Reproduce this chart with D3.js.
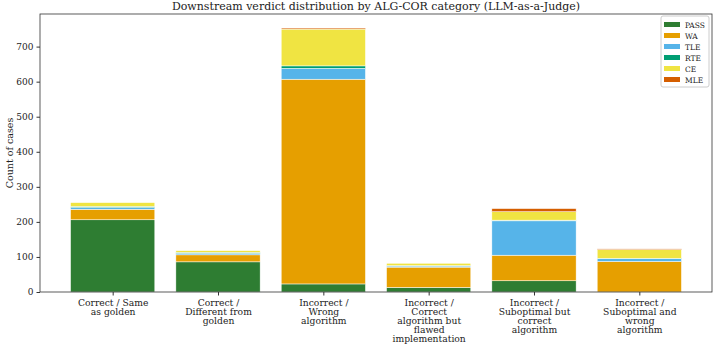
<!DOCTYPE html>
<html>
<head>
<meta charset="utf-8">
<script src="https://cdn.jsdelivr.net/npm/d3@7"></script>
<style>
  body { margin: 0; background: #fff; }
  text { font-family: "DejaVu Serif", serif; fill: #222; }
</style>
</head>
<body>
<svg id="chart"></svg>
<script>
/* data */
const categories = [
  ['Correct / Same', 'as golden'],
  ['Correct /', 'Different from', 'golden'],
  ['Incorrect /', 'Wrong', 'algorithm'],
  ['Incorrect /', 'Correct', 'algorithm but', 'flawed', 'implementation'],
  ['Incorrect /', 'Suboptimal but', 'correct', 'algorithm'],
  ['Incorrect /', 'Suboptimal and', 'wrong', 'algorithm']
];
const verdicts = ['PASS', 'WA', 'TLE', 'RTE', 'CE', 'MLE'];
const verdictColors = ['#2e7d32', '#e69f00', '#56b4e9', '#009e73', '#f0e442', '#d55e00'];
const passCounts = [206, 86, 23, 13, 32, 0];
const waCounts   = [30, 20, 584, 58, 73, 87];
const tleCounts  = [5, 4, 31, 3, 98, 8];
const rteCounts  = [3, 3, 7, 1, 2, 1];
const ceCounts   = [11, 5, 105, 7, 24, 25];
const mleCounts  = [0, 0, 3, 0, 9, 2];
const yTicks = [0, 100, 200, 300, 400, 500, 600, 700];

const width = 718, height = 349;
const margin = {top: 14, right: 6, bottom: 57, left: 40};

const svg = d3.select('#chart').attr('width', width).attr('height', height);

const series = [passCounts, waCounts, tleCounts, rteCounts, ceCounts, mleCounts];
const rows = categories.map((c, i) => {
  const r = {key: i};
  verdicts.forEach((v, j) => r[v] = series[j][i]);
  return r;
});
const stacked = d3.stack().keys(verdicts)(rows);

/* categorical axis like matplotlib: bars 0.8 wide, 5% margins */
const x = d3.scaleLinear().domain([-0.69, 5.69]).range([margin.left, width - margin.right]);
const y = d3.scaleLinear().domain([0, 793]).range([height - margin.bottom, margin.top]);
const barW = x(0.8) - x(0);

const g = svg.append('g');
g.selectAll('g.layer')
  .data(stacked)
  .join('g')
  .attr('class', 'layer')
  .attr('fill', (d, i) => verdictColors[i])
  .selectAll('rect')
  .data(d => d)
  .join('rect')
  .attr('x', (d, i) => x(i) - barW / 2)
  .attr('width', barW)
  .attr('y', d => y(d[1]))
  .attr('height', d => Math.max(0, y(d[0]) - y(d[1])))
  .attr('stroke', '#fff')
  .attr('stroke-width', 0.5);

/* frame */
svg.append('rect')
  .attr('x', margin.left).attr('y', margin.top)
  .attr('width', width - margin.right - margin.left)
  .attr('height', height - margin.bottom - margin.top)
  .attr('fill', 'none').attr('stroke', '#333').attr('stroke-width', 0.8);

/* y axis */
const yAxis = svg.append('g')
  .attr('transform', `translate(${margin.left},0)`)
  .call(d3.axisLeft(y).tickValues(yTicks).tickSize(3.5).tickPadding(3));
yAxis.select('.domain').remove();
yAxis.selectAll('line').attr('stroke', '#333');
yAxis.selectAll('text').style('font-size', '9px').attr('fill', '#222');

/* x axis */
const xAxis = svg.append('g')
  .attr('transform', `translate(0,${height - margin.bottom})`)
  .call(d3.axisBottom(x).tickValues(d3.range(categories.length)).tickSize(3.5).tickFormat(''));
xAxis.select('.domain').remove();
xAxis.selectAll('line').attr('stroke', '#333');
xAxis.selectAll('.tick').each(function (d) {
  const t = d3.select(this).append('text')
    .attr('text-anchor', 'middle')
    .style('font-size', '9.2px')
    .attr('fill', '#222');
  categories[d].forEach((line, k) => {
    t.append('tspan').attr('x', 0).attr('y', 13.5 + k * 9.1).text(line);
  });
});

/* labels */
svg.append('text')
  .attr('x', (margin.left + width - margin.right) / 2).attr('y', 10)
  .attr('text-anchor', 'middle').style('font-size', '11px')
  .text('Downstream verdict distribution by ALG-COR category (LLM-as-a-Judge)');
svg.append('text')
  .attr('transform', `translate(13,${(margin.top + height - margin.bottom) / 2}) rotate(-90)`)
  .attr('text-anchor', 'middle').style('font-size', '9.5px')
  .text('Count of cases');

/* legend */
const lg = svg.append('g').attr('transform', `translate(${width - margin.right - 51},${margin.top + 2})`);
lg.append('rect').attr('width', 48).attr('height', 71)
  .attr('fill', '#fff').attr('fill-opacity', 0.8)
  .attr('stroke', '#ccc').attr('rx', 2);
verdicts.forEach((v, i) => {
  const row = lg.append('g').attr('transform', `translate(3,${8.5 + i * 11})`);
  row.append('rect').attr('width', 16).attr('height', 5).attr('y', -2.5).attr('fill', verdictColors[i]);
  row.append('text').attr('x', 21).attr('y', 3).style('font-size', '7.5px').text(v);
});
</script>
</body>
</html>
